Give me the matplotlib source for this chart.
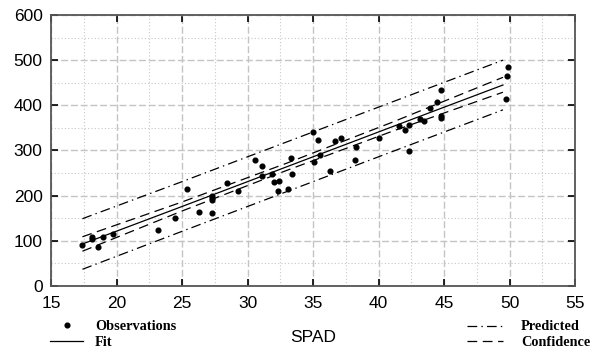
import matplotlib
matplotlib.use("Agg")
import matplotlib.pyplot as plt
from matplotlib.lines import Line2D
from matplotlib.ticker import MultipleLocator

plt.rcParams['lines.scale_dashes'] = False

# Observations
obs_x = [17.4, 18.1, 18.1, 18.6, 19.0, 19.7, 23.2, 24.5, 25.4, 26.3, 27.3, 27.3,
         27.3, 27.3, 28.4, 29.3, 30.6, 31.1, 31.1, 31.9, 32.0, 32.4, 32.3, 33.1,
         33.3, 33.4, 35.0, 35.1, 35.4, 35.5, 36.3, 36.7, 37.1, 38.2, 38.3, 40.0,
         41.6, 42.0, 42.3, 42.3, 43.2, 43.5, 43.9, 44.5, 44.8, 44.8, 44.8, 49.7,
         49.8, 49.9]
obs_y = [90, 109, 104, 87, 108, 115, 123, 151, 215, 164, 162, 200,
         194, 190, 229, 210, 279, 266, 244, 248, 231, 233, 210, 214,
         283, 247, 342, 275, 323, 289, 255, 322, 328, 280, 307, 328,
         354, 346, 357, 298, 370, 366, 393, 407, 434, 376, 373, 415,
         465, 484]

# Fit and bands
band_x = [17.4, 25.0, 33.0, 41.0, 49.5]
fit_y = [93, 176, 264, 352, 445]
conf_upper = [109, 186, 272, 362, 462]
conf_lower = [77, 166, 256, 342, 429]
pred_upper = [149, 231, 319, 407, 500]
pred_lower = [37, 121, 209, 297, 390]

x_ticks = [15, 20, 25, 30, 35, 40, 45, 50, 55]
y_ticks = [0, 100, 200, 300, 400, 500, 600]

fig = plt.figure(figsize=(5.9, 3.51), dpi=100)
ax = fig.add_axes([51/590, 1-286/351, (575-51)/590, (286-15)/351])

ax.set_xlim(15, 55)
ax.set_ylim(0, 600)
ax.set_xticks(x_ticks)
ax.set_yticks(y_ticks)
ax.xaxis.set_minor_locator(MultipleLocator(2.5))
ax.yaxis.set_minor_locator(MultipleLocator(50))

ax.grid(which='major', color='#c4c4c4', linestyle=(0, (5, 2)), linewidth=1.0)
ax.grid(which='minor', color='#c8c8c8', linestyle=(0, (0.8, 1.6)), linewidth=0.8)
ax.set_axisbelow(True)

for s in ax.spines.values():
    s.set_color('#555555')
    s.set_linewidth(1.3)

ax.tick_params(which='major', direction='in', length=5, width=1.2, color='black',
               top=True, right=True, labelsize=12.5)
ax.tick_params(axis='x', pad=7.5)
ax.tick_params(axis='y', pad=6)
ax.tick_params(which='minor', length=0)
for lab in ax.get_xticklabels() + ax.get_yticklabels():
    lab.set_fontfamily('Liberation Sans')

ax.plot(band_x, pred_upper, color='black', lw=0.9, dashes=(7, 3, 1, 3))
ax.plot(band_x, pred_lower, color='black', lw=0.9, dashes=(7, 3, 1, 3))
ax.plot(band_x, conf_upper, color='black', lw=0.9, dashes=(7, 4))
ax.plot(band_x, conf_lower, color='black', lw=0.9, dashes=(7, 4))
ax.plot(band_x, fit_y, color='black', lw=0.9)
ax.plot(obs_x, obs_y, 'o', color='black', markersize=3.4, linestyle='none')

fig.text(313/590, 1-338/351, 'SPAD', ha='center', va='center',
         family='Liberation Sans', fontsize=12.5)

legfont = dict(family='Liberation Serif', fontweight='bold', fontsize=10.3, va='center', ha='left')
fig.text(95/590, 1-326/351, 'Observations', **legfont)
fig.text(95/590, 1-342/351, 'Fit', **legfont)
fig.text(521/590, 1-326/351, 'Predicted', **legfont)
fig.text(521/590, 1-342/351, 'Confidence', **legfont)

fig.add_artist(Line2D([67/590], [1-325/351], marker='o', markersize=3.4, color='black',
                      transform=fig.transFigure, linestyle='none'))
fig.add_artist(Line2D([50/590, 83/590], [1-341/351, 1-341/351], color='black', lw=0.9,
                      transform=fig.transFigure))
fig.add_artist(Line2D([467/590, 503/590], [1-326/351, 1-326/351], color='black', lw=0.9,
                      dashes=(7, 3, 1, 3), transform=fig.transFigure))
fig.add_artist(Line2D([467/590, 503/590], [1-341/351, 1-341/351], color='black', lw=0.9,
                      dashes=(7, 4), transform=fig.transFigure))

fig.savefig('out.png', dpi=100)
